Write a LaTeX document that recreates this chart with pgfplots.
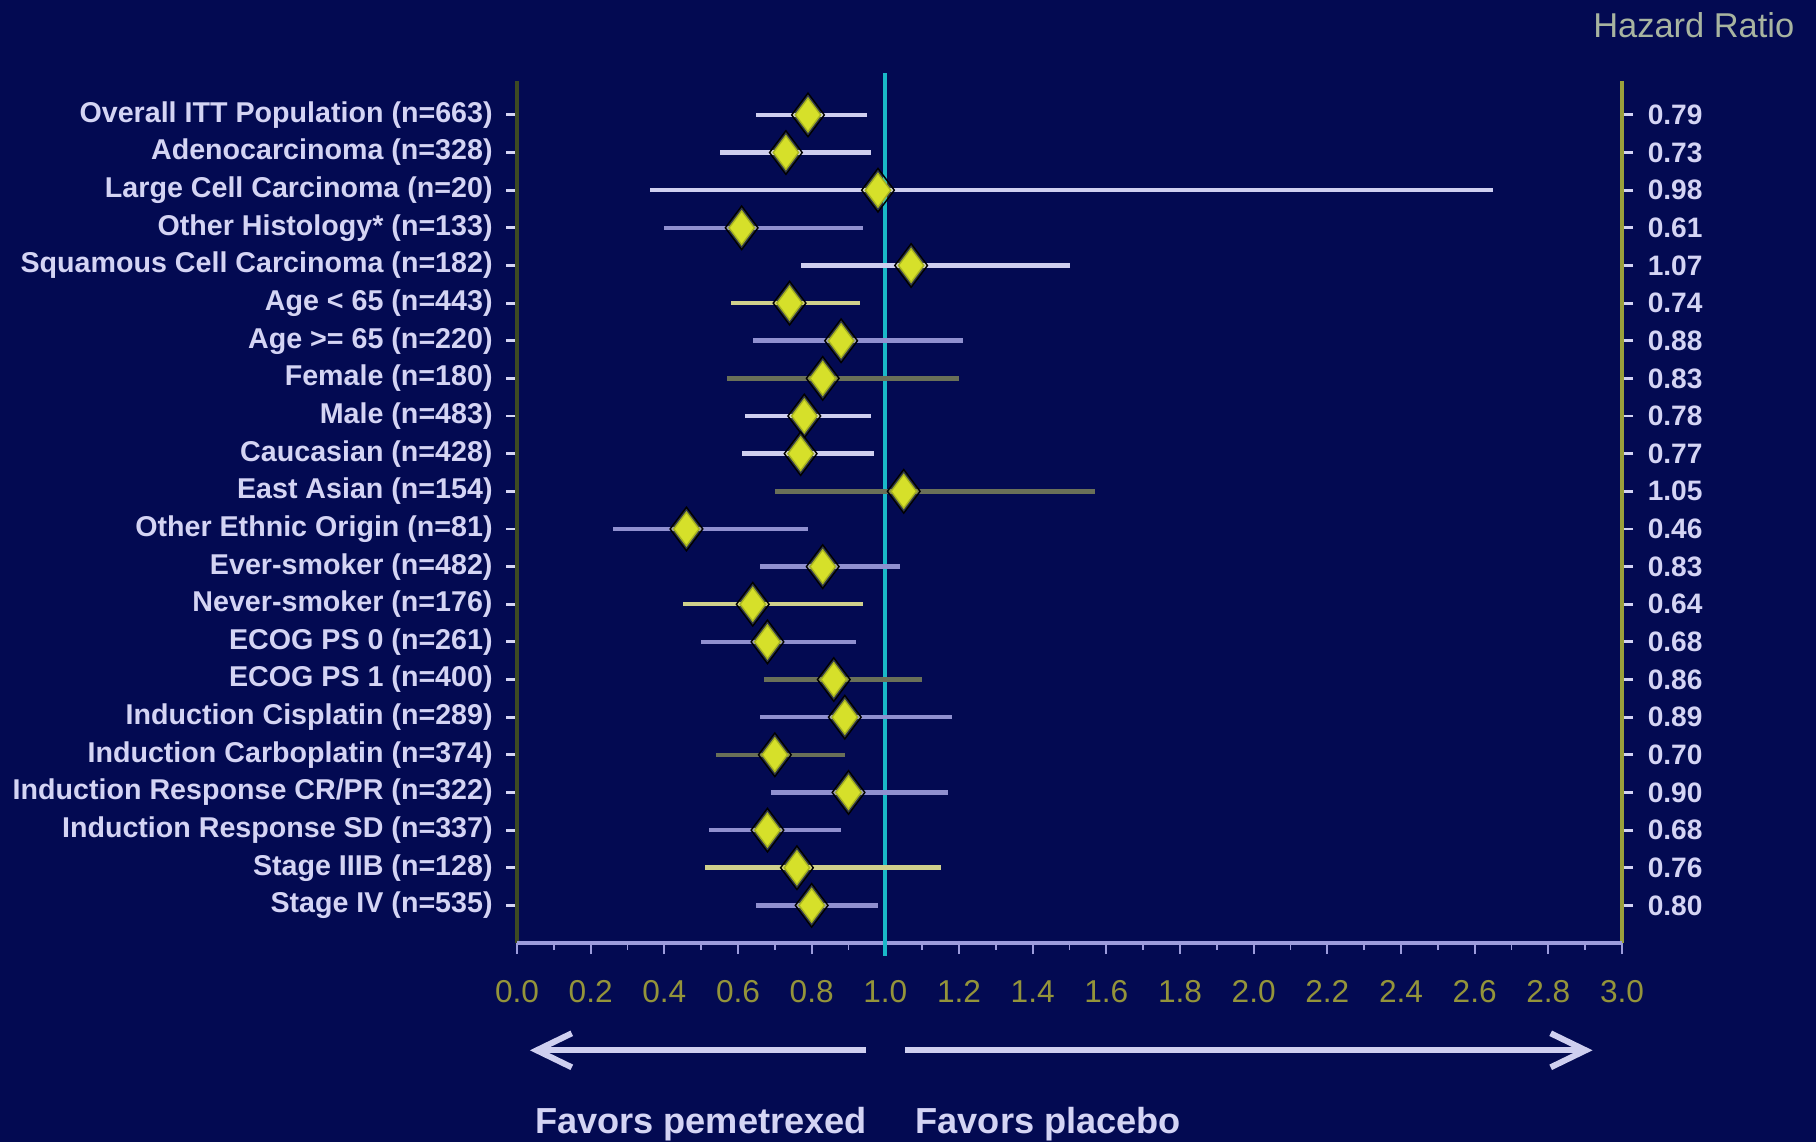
\documentclass[border=0pt]{standalone}
\usepackage{pgfplots}
\pgfplotsset{compat=1.18}
\usepackage{pgfplotstable}
\usepackage{fontspec}
\setmainfont{Liberation Sans}
\usetikzlibrary{arrows.meta}

\definecolor{bg}{HTML}{030A52}
\definecolor{lab}{HTML}{D4D4F4}
\definecolor{xlab}{HTML}{94943A}
\definecolor{leftax}{HTML}{3E4A22}
\definecolor{rightax}{HTML}{9AA03C}
\definecolor{botax}{HTML}{9C9CDC}
\definecolor{nullline}{HTML}{19B8C8}
\definecolor{diam}{HTML}{D6E02A}
\definecolor{diamedge}{HTML}{A8B420}
\definecolor{ci1}{HTML}{CFCFF0}
\definecolor{ci2}{HTML}{9090D0}
\definecolor{ci3}{HTML}{D0D08C}
\definecolor{ci4}{HTML}{6A7058}
\definecolor{hrtitle}{HTML}{A8B4A0}

% subgroup hazard ratios with 95% CI; g = line colour group
\pgfplotstableread{
row hr   lo   hi   g
1   0.79 0.65 0.95 1
2   0.73 0.55 0.96 1
3   0.98 0.36 2.65 1
4   0.61 0.40 0.94 2
5   1.07 0.77 1.50 1
6   0.74 0.58 0.93 3
7   0.88 0.64 1.21 2
8   0.83 0.57 1.20 4
9   0.78 0.62 0.96 1
10  0.77 0.61 0.97 1
11  1.05 0.70 1.57 4
12  0.46 0.26 0.79 2
13  0.83 0.66 1.04 2
14  0.64 0.45 0.94 3
15  0.68 0.50 0.92 2
16  0.86 0.67 1.10 4
17  0.89 0.66 1.18 2
18  0.70 0.54 0.89 4
19  0.90 0.69 1.17 2
20  0.68 0.52 0.88 2
21  0.76 0.51 1.15 3
22  0.80 0.65 0.98 2
}\hrdata

\begin{document}
\begin{tikzpicture}
\fill[bg] (0,0) rectangle (18.16,11.42);
\begin{axis}[
  at={(5.17cm,1.99cm)}, anchor=south west,
  scale only axis, width=11.05cm, height=8.62cm,
  xmin=0, xmax=3, ymin=0.1, ymax=23, y dir=reverse,
  clip=false,
  axis line style={draw=none},
  tick align=outside,
  xtick={0,0.2,0.4,0.6,0.8,1.0,1.2,1.4,1.6,1.8,2.0,2.2,2.4,2.6,2.8,3.0},
  xticklabels={0.0,0.2,0.4,0.6,0.8,1.0,1.2,1.4,1.6,1.8,2.0,2.2,2.4,2.6,2.8,3.0},
  minor x tick num=1,
  xtick pos=left,
  ytick pos=both, yticklabel pos=left,
  ytick={1,...,22},
  yticklabels={
    Overall ITT Population (n=663),
    Adenocarcinoma (n=328),
    Large Cell Carcinoma (n=20),
    Other Histology* (n=133),
    Squamous Cell Carcinoma (n=182),
    Age < 65 (n=443),
    Age >= 65 (n=220),
    Female (n=180),
    Male (n=483),
    Caucasian (n=428),
    East Asian (n=154),
    Other Ethnic Origin (n=81),
    Ever-smoker (n=482),
    Never-smoker (n=176),
    ECOG PS 0 (n=261),
    ECOG PS 1 (n=400),
    Induction Cisplatin (n=289),
    Induction Carboplatin (n=374),
    Induction Response CR/PR (n=322),
    Induction Response SD (n=337),
    Stage IIIB (n=128),
    Stage IV (n=535)},
  major tick length=1.1mm, minor tick length=0.7mm,
  xtick style={draw=botax, line width=0.5pt},
  ytick style={draw=lab, line width=0.8pt},
  x tick label style={font=\fontsize{9}{10}\selectfont, text=xlab, yshift=-1.4mm},
  y tick label style={font=\fontsize{8.15}{9}\selectfont\bfseries, text=lab, xshift=-0.1mm},
]
% frame: left, right and bottom spines
\draw[leftax, line width=0.45mm] (axis cs:0,0.1) -- (axis cs:0,23);
\draw[rightax, line width=0.45mm] (axis cs:3,0.1) -- (axis cs:3,23);
\draw[botax, line width=0.35mm] (axis cs:0,23) -- (axis cs:3,23);

% line of no effect
\addplot[nullline, line width=0.4mm] coordinates {(1,-0.1) (1,23.35)};

% confidence intervals, one colour group at a time
\pgfplotsinvokeforeach{1,2,3,4}{
  \addplot[only marks, mark=none,
    restrict expr to domain={\thisrow{g}}{#1:#1},
    error bars/.cd, x dir=both, x explicit, error mark=none,
    error bar style={draw=ci#1, line width=0.45mm}]
    table[x=hr, y=row,
      x error plus expr=\thisrow{hi}-\thisrow{hr},
      x error minus expr=\thisrow{hr}-\thisrow{lo}] {\hrdata};
}

% point estimates
\addplot[only marks, mark=diamond*, mark size=6.2pt,
  mark options={fill=diam, draw=none, fill opacity=0.22}]
  table[x=hr, y=row] {\hrdata};
\addplot[only marks, mark=diamond*, mark size=4.8pt,
  mark options={fill=diam, draw=diamedge, line width=0.4pt}]
  table[x=hr, y=row] {\hrdata};

% hazard ratio column
\addplot[only marks, mark=*, mark size=0pt, mark options={draw=none, fill=none},
  point meta=explicit,
  nodes near coords={\pgfmathprintnumber[fixed, fixed zerofill, precision=2,
    assume math mode=true]{\pgfplotspointmeta}},
  every node near coord/.append style={anchor=west, inner sep=0pt,
    font=\fontsize{8}{9}\selectfont\bfseries, text=lab}]
  table[x expr=3.068, y=row, meta=hr] {\hrdata};

% direction arrows and captions
\draw[ci1, line width=0.6mm, -{Straight Barb[length=3.5mm, width=3.4mm]}]
  (axis cs:0.948,25.85) -- (axis cs:0.035,25.85);
\draw[ci1, line width=0.6mm, -{Straight Barb[length=3.5mm, width=3.4mm]}]
  (axis cs:1.053,25.85) -- (axis cs:2.92,25.85);
\node[anchor=west, inner sep=0pt, text=lab, font=\fontsize{10.3}{12}\selectfont\bfseries]
  at (axis cs:0.047,27.8) {Favors pemetrexed};
\node[anchor=west, inner sep=0pt, text=lab, font=\fontsize{10.3}{12}\selectfont\bfseries]
  at (axis cs:1.08,27.8) {Favors placebo};
\end{axis}
\node[anchor=east, inner sep=0pt, text=hrtitle, font=\fontsize{9.8}{11}\selectfont]
  at (17.95,11.17) {Hazard Ratio};
\pgfresetboundingbox
\useasboundingbox (0,0) rectangle (18.16,11.42);
\end{tikzpicture}
\end{document}
